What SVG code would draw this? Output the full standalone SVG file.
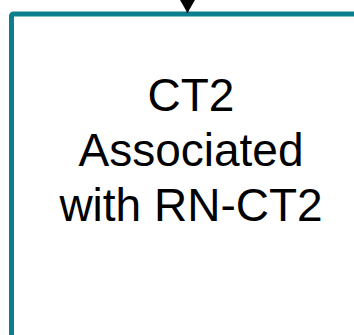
<svg xmlns="http://www.w3.org/2000/svg" width="354" height="335" viewBox="0 0 354 335">
  <style>
    .box { fill: #ffffff; stroke: #0b7f8e; stroke-width: 5; }
    .label { font-family: "Liberation Sans", Arial, sans-serif; font-size: 46px; fill: #000000; text-anchor: middle; }
    .edge { stroke: #000000; stroke-width: 1.5; fill: none; }
  </style>
  <defs>
    <marker id="arrow" viewBox="0 0 14 16" refX="14" refY="8" markerWidth="14" markerHeight="16" markerUnits="userSpaceOnUse" orient="auto">
      <path d="M0,0 L14,8 L0,16 Z" fill="#000000"/>
    </marker>
  </defs>
  <rect width="354" height="335" fill="#ffffff"/>
  <g id="ct2">
    <rect class="box" x="11.5" y="14" width="380" height="360" rx="2"/>
    <text class="label" x="191" y="111">CT2</text>
    <text class="label" x="191" y="166">Associated</text>
    <text class="label" x="191" y="221">with RN-CT2</text>
  </g>
  <g id="connectors">
    <line class="edge" x1="187.5" y1="-30" x2="187.5" y2="13" marker-end="url(#arrow)"/>
  </g>
</svg>
